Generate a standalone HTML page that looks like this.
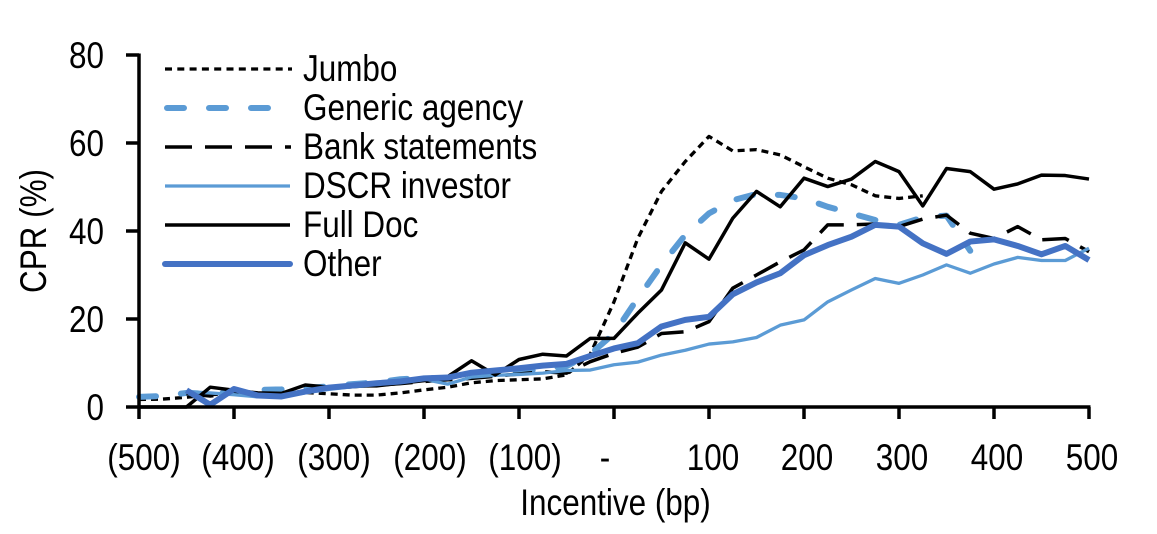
<!DOCTYPE html>
<html>
<head>
<meta charset="utf-8">
<style>
  html, body { margin: 0; padding: 0; background: #ffffff; }
  svg { display: block; }
  text { font-family: "Liberation Sans", Arial, sans-serif; font-size: 37px; fill: #000; }
</style>
</head>
<body>
<svg width="1157" height="534" viewBox="0 0 1157 534" xmlns="http://www.w3.org/2000/svg">
  <rect width="1157" height="534" fill="#ffffff"/>

  <!-- Series (data coords: x = index 0..40 (25bp steps), y = CPR %) -->
  <g transform="matrix(23.75,0,0,-4.4,139,407)" fill="none" stroke-linejoin="round">
    <!-- Jumbo -->
    <polyline vector-effect="non-scaling-stroke" stroke="#000" stroke-width="3.3" stroke-dasharray="7,5"
      points="0,1.7 1,1.8 2,2.2 3,2.8 4,3.0 5,3.0 6,3.1 7,3.3 8,3.0 9,2.7 10,2.7 11,3.2 12,3.9 13,4.5 14,5.5 15,6.0 16,6.2 17,6.4 18,7.3 19,12.0 20,23.9 21,38.3 22,49.0 23,55.8 24,61.5 25,58.2 26,58.5 27,57.3 28,54.6 29,52.0 30,50.5 31,48.0 32,47.4 33,48.0"/>
    <!-- Generic agency -->
    <polyline vector-effect="non-scaling-stroke" stroke="#5B9BD5" stroke-width="6" stroke-linecap="round" stroke-dasharray="17,25"
      points="0,2.3 1,2.5 2,3.2 3,3.0 4,3.5 5,3.9 6,4.0 7,4.3 8,4.7 9,5.2 10,5.6 11,6.3 12,6.6 13,6.5 14,7.2 15,7.8 16,8.0 17,8.6 18,9.3 19,12.0 20,16.7 21,24.7 22,32.3 23,39.1 24,44.0 25,47.0 26,48.4 27,48.2 28,47.4 29,45.5 30,44.0 31,42.5 32,41.4 33,43.1 34,43.5 35,35.5"/>
    <!-- Bank statements -->
    <polyline vector-effect="non-scaling-stroke" stroke="#000" stroke-width="3.5" stroke-dasharray="27,13"
      points="2,3.0 3,2.5 4,3.2 5,2.8 6,3.0 7,3.8 8,4.2 9,4.6 10,5.0 11,5.3 12,5.8 13,6.2 14,6.5 15,7.0 16,7.5 17,8.0 18,7.7 19,10.3 20,12.2 21,13.6 22,16.7 23,17.1 24,19.4 25,27.0 26,30.0 27,33.0 28,35.7 29,41.4 30,41.4 31,41.6 32,41.0 33,42.7 34,43.6 35,39.5 36,38.3 37,41.0 38,38.0 39,38.3 40,35.3"/>
    <!-- DSCR investor -->
    <polyline vector-effect="non-scaling-stroke" stroke="#5B9BD5" stroke-width="3.3"
      points="2,3.5 3,3.2 4,2.8 5,2.3 6,2.4 7,3.2 8,4.0 9,4.6 10,4.9 11,5.6 12,6.3 13,5.2 14,6.8 15,7.2 16,7.4 17,7.7 18,8.3 19,8.4 20,9.6 21,10.2 22,11.8 23,12.9 24,14.3 25,14.8 26,15.8 27,18.6 28,19.8 29,23.9 30,26.6 31,29.2 32,28.1 33,30.0 34,32.3 35,30.4 36,32.5 37,34.0 38,33.3 39,33.3 40,36.1"/>
    <!-- Full Doc -->
    <polyline vector-effect="non-scaling-stroke" stroke="#000" stroke-width="3.5"
      points="0,0 1,0 2,0 3,4.5 4,3.8 5,3.2 6,3.1 7,5.0 8,4.5 9,4.8 10,4.8 11,5.4 12,6.0 13,6.9 14,10.5 15,7.3 16,10.8 17,12.0 18,11.6 19,15.6 20,15.6 21,21.3 22,26.6 23,37.3 24,33.6 25,42.9 26,49.0 27,45.5 28,52.0 29,50.1 30,51.8 31,55.8 32,53.5 33,45.7 34,54.2 35,53.5 36,49.5 37,50.7 38,52.7 39,52.6 40,51.8"/>
    <!-- Other -->
    <polyline vector-effect="non-scaling-stroke" stroke="#4472C4" stroke-width="6"
      points="2,3.8 3,0.5 4,4.1 5,2.6 6,2.4 7,3.5 8,4.4 9,4.9 10,5.4 11,5.8 12,6.5 13,6.7 14,7.8 15,8.3 16,8.8 17,9.4 18,9.8 19,11.6 20,13.3 21,14.5 22,18.3 23,19.8 24,20.5 25,25.6 26,28.3 27,30.4 28,34.5 29,36.8 30,38.7 31,41.4 32,41.0 33,37.2 34,34.8 35,37.6 36,38.1 37,36.6 38,34.7 39,36.6 40,33.4"/>
  </g>

  <!-- Axes -->
  <g stroke="#000" stroke-width="3.5" fill="none">
    <line x1="139" y1="53.5" x2="139" y2="419"/>
    <line x1="126" y1="407" x2="1090.5" y2="407"/>
    <line x1="126" y1="55" x2="139" y2="55"/>
    <line x1="126" y1="143" x2="139" y2="143"/>
    <line x1="126" y1="231" x2="139" y2="231"/>
    <line x1="126" y1="319" x2="139" y2="319"/>
    <line x1="234" y1="407" x2="234" y2="419"/>
    <line x1="329" y1="407" x2="329" y2="419"/>
    <line x1="424" y1="407" x2="424" y2="419"/>
    <line x1="519" y1="407" x2="519" y2="419"/>
    <line x1="614" y1="407" x2="614" y2="419"/>
    <line x1="709" y1="407" x2="709" y2="419"/>
    <line x1="804" y1="407" x2="804" y2="419"/>
    <line x1="899" y1="407" x2="899" y2="419"/>
    <line x1="994" y1="407" x2="994" y2="419"/>
    <line x1="1089" y1="407" x2="1089" y2="419"/>
  </g>

  <!-- Y tick labels -->
  <g text-anchor="end">
    <text transform="translate(104,68) scale(0.85,1)">80</text>
    <text transform="translate(104,156) scale(0.85,1)">60</text>
    <text transform="translate(104,244) scale(0.85,1)">40</text>
    <text transform="translate(104,332) scale(0.85,1)">20</text>
    <text transform="translate(104,420) scale(0.85,1)">0</text>
  </g>

  <!-- X tick labels -->
  <g text-anchor="middle">
    <text transform="translate(144,470) scale(0.85,1)">(500)</text>
    <text transform="translate(238,470) scale(0.85,1)">(400)</text>
    <text transform="translate(334,470) scale(0.85,1)">(300)</text>
    <text transform="translate(430,470) scale(0.85,1)">(200)</text>
    <text transform="translate(525,470) scale(0.85,1)">(100)</text>
    <text transform="translate(605,470) scale(0.85,1)">-</text>
    <text transform="translate(713,470) scale(0.85,1)">100</text>
    <text transform="translate(807,470) scale(0.85,1)">200</text>
    <text transform="translate(902,470) scale(0.85,1)">300</text>
    <text transform="translate(997,470) scale(0.85,1)">400</text>
    <text transform="translate(1092,470) scale(0.85,1)">500</text>
  </g>

  <!-- Axis titles -->
  <text text-anchor="middle" transform="translate(615.5,515) scale(0.85,1)">Incentive (bp)</text>
  <text text-anchor="middle" transform="translate(46,231) rotate(-90) scale(0.85,1)">CPR (%)</text>

  <!-- Legend -->
  <g fill="none">
    <line x1="165" y1="69" x2="292" y2="69" stroke="#000" stroke-width="3.3" stroke-dasharray="7,5.3"/>
    <line x1="167" y1="108" x2="290" y2="108" stroke="#5B9BD5" stroke-width="6" stroke-linecap="round" stroke-dasharray="17,25"/>
    <line x1="165" y1="147" x2="291" y2="147" stroke="#000" stroke-width="3.5" stroke-dasharray="27,13"/>
    <line x1="165" y1="186" x2="290" y2="186" stroke="#5B9BD5" stroke-width="3.3"/>
    <line x1="165" y1="225" x2="290" y2="225" stroke="#000" stroke-width="3.5"/>
    <line x1="165" y1="264" x2="290" y2="264" stroke="#4472C4" stroke-width="6" stroke-linecap="round"/>
  </g>
  <g>
    <text transform="translate(303,81) scale(0.85,1)">Jumbo</text>
    <text transform="translate(303,120) scale(0.85,1)">Generic agency</text>
    <text transform="translate(303,159) scale(0.85,1)">Bank statements</text>
    <text transform="translate(303,198) scale(0.85,1)">DSCR investor</text>
    <text transform="translate(303,237) scale(0.85,1)">Full Doc</text>
    <text transform="translate(303,276) scale(0.85,1)">Other</text>
  </g>
</svg>
</body>
</html>
